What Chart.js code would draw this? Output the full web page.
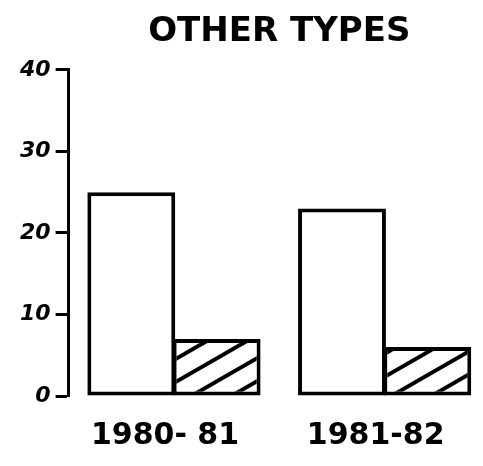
<!DOCTYPE html>
<html>
<head>
<meta charset="utf-8">
<script src="https://cdn.jsdelivr.net/npm/chart.js@4"></script>
<style>
html,body{margin:0;padding:0;background:#fff;overflow:hidden;width:483px;height:466px;}
#wrap{width:490px;height:476px;}
</style>
</head>
<body>
<div id="wrap"><canvas id="c" width="490" height="476"></canvas></div>
<script>
const categories = ['1980- 81', '1981-82'];
const totalValues = [25, 23];
const hatchedValues = [7, 6];
const yTicks = [0, 10, 20, 30, 40];
const titleText = 'OTHER TYPES';

function hatch() {
  const W = 40, H = 23;
  const p = document.createElement('canvas');
  p.width = W; p.height = H;
  const g = p.getContext('2d');
  g.fillStyle = '#fff';
  g.fillRect(0, 0, W, H);
  g.strokeStyle = '#000';
  g.lineWidth = 4;
  for (let k = -1; k <= 1; k++) {
    g.beginPath();
    g.moveTo(-W, 2 * H + k * H);
    g.lineTo(2 * W, -H + k * H);
    g.stroke();
  }
  return g.createPattern(p, 'repeat');
}

const ctx = document.getElementById('c').getContext('2d');
new Chart(ctx, {
  type: 'bar',
  data: {
    labels: categories,
    datasets: [
      { label: 'Total', data: totalValues, backgroundColor: '#fff', borderColor: '#000', borderWidth: 4, borderSkipped: false },
      { label: 'Hatched', data: hatchedValues, backgroundColor: hatch(), borderColor: '#000', borderWidth: 4, borderSkipped: false }
    ]
  },
  options: {
    responsive: false,
    animation: false,
    devicePixelRatio: 1,
    layout: { padding: { left: 15, right: 0, top: 12, bottom: 0 } },
    datasets: { bar: { categoryPercentage: 0.81, barPercentage: 1.03 } },
    plugins: {
      legend: { display: false },
      tooltip: { enabled: false },
      title: {
        display: true,
        text: titleText,
        fullSize: false,
        color: '#000',
        font: { family: 'DejaVu Sans', size: 34, weight: 'bold' },
        padding: { top: 0, bottom: 17 }
      }
    },
    scales: {
      x: {
        grid: { display: false, drawTicks: false },
        border: { display: false },
        ticks: { color: '#000', padding: 22, labelOffset: -9, font: { family: 'DejaVu Sans', size: 30, weight: 'bold' } }
      },
      y: {
        min: 0, max: 40,
        afterBuildTicks: (s) => { s.ticks = yTicks.map(v => ({ value: v })); },
        grid: { drawOnChartArea: false, drawTicks: true, tickLength: 13, tickWidth: 3, color: '#000' },
        border: { display: true, color: '#000', width: 3 },
        ticks: { color: '#000', padding: 5, font: { family: 'DejaVu Sans', size: 22, weight: 'bold', style: 'italic' } }
      }
    }
  }
});
</script>
</body>
</html>
